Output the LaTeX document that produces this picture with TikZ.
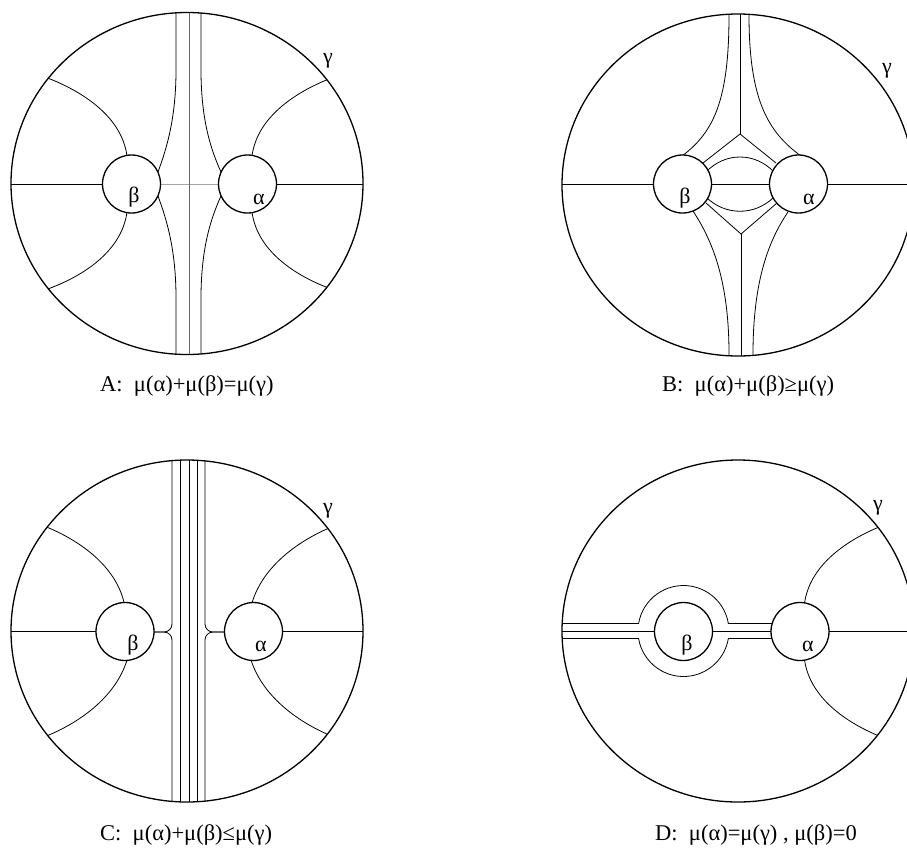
\documentclass[tikz,border=0pt]{standalone}
\usepackage{fontspec}
\setmainfont{Liberation Serif}
\begin{document}
\begin{tikzpicture}[x=1pt,y=-1pt,
  outer/.style={line width=1.3pt},
  hole/.style={line width=1.3pt,fill=white},
  thin/.style={line width=0.8pt},
  lbl/.style={inner sep=0pt,font=\fontsize{22}{22}\selectfont},
  caption/.style={inner sep=0pt,anchor=base west,font=\fontsize{22.5}{22.5}\selectfont}]
\useasboundingbox (0,0) rectangle (907,847);
% ================= Panel A =================
\begin{scope}
  \clip (187,183.5) ellipse [x radius=176, y radius=171];
  \draw[thin] (0,184) -- (131.5,184);
  \draw[thin,black!35] (131.5,184) -- (247.5,184);
  \draw[thin] (247.5,184) -- (380,184);
  \draw[thin,black!60] (189,0) -- (189,370);
  \draw[thin] (176,0) -- (176,70) .. controls (176,120) and (166,150) .. (158,172);
  \draw[thin] (201,0) -- (201,70) .. controls (201,120) and (211,150) .. (221,172);
  \draw[thin] (158,196) .. controls (166,218) and (176,248) .. (176,298) -- (176,370);
  \draw[thin] (221,196) .. controls (211,218) and (201,248) .. (201,298) -- (201,370);
  \draw[thin] (45,77) .. controls (85,92) and (122,118) .. (127,156);
  \draw[thin] (45,290) .. controls (85,276) and (122,250) .. (127,212);
  \draw[thin] (334,77) .. controls (294,92) and (257,118) .. (252,156);
  \draw[thin] (334,290) .. controls (294,276) and (257,250) .. (252,212);
\end{scope}
\draw[outer] (187,183.5) ellipse [x radius=176, y radius=171];
\draw[hole] (131.5,184) circle [radius=29];
\draw[hole] (247.5,184) circle [radius=29];
\node[lbl] (Ab) at (134,197) {β};
\node[lbl] (Aa) at (259,199) {α};
\node[lbl] (Ag) at (328,61) {γ};
\node[caption] (Acap) at (100,391) {A:\ \ μ(α)+μ(β)=μ(γ)};
% ================= Panel B =================
\begin{scope}
  \clip (738,185) ellipse [x radius=176, y radius=171];
  \draw[thin] (550,184) -- (920,184);
  \draw[thin] (740,0) -- (740,134);
  \draw[thin] (741,234) -- (741,370);
  \draw[thin] (703,163) -- (740,134) -- (776,163);
  \draw[thin] (706,203) -- (741,234) -- (777,203);
  \draw[thin] (706,172) .. controls (725,152) and (755,152) .. (774,172);
  \draw[thin] (706,197) .. controls (725,216) and (755,216) .. (774,197);
  \draw[thin] (729,0) -- (729,15) .. controls (729,100) and (714,132) .. (682,156);
  \draw[thin] (749,0) -- (749,15) .. controls (749,100) and (768,132) .. (801,156);
  \draw[thin] (693,211) .. controls (712,240) and (729,280) .. (729,354) -- (729,370);
  \draw[thin] (788,212) .. controls (769,240) and (753,280) .. (753,354) -- (753,370);
\end{scope}
\draw[outer] (738,185) ellipse [x radius=176, y radius=171];
\draw[hole] (682.5,184) circle [radius=29];
\draw[hole] (798.5,184) circle [radius=29];
\node[lbl] (Bb) at (685,198) {β};
\node[lbl] (Ba) at (809,199) {α};
\node[lbl] (Bg) at (887,71) {γ};
\node[caption] (Bcap) at (662,391) {B:\ \ μ(α)+μ(β)≥μ(γ)};
% ================= Panel C =================
\begin{scope}
  \clip (187,631) ellipse [x radius=176, y radius=171];
  \draw[thin] (0,631.5) -- (125,631.5);
  \draw[thin] (253.5,631.5) -- (380,631.5);
  \foreach \xx in {180,189,197} \draw[thin] (\xx,450) -- (\xx,810);
  \draw[thin,rounded corners=8pt] (172,450) -- (172,632) -- (140,632);
  \draw[thin,rounded corners=8pt] (172,810) -- (172,632) -- (140,632);
  \draw[thin,rounded corners=8pt] (205,450) -- (205,632) -- (240,632);
  \draw[thin,rounded corners=8pt] (205,810) -- (205,632) -- (240,632);
  \draw[thin] (44,526) .. controls (78.5,539.5) and (115.5,565.5) .. (124,602.5);
  \draw[thin] (44,737) .. controls (78.5,723.5) and (115.5,697.5) .. (127,660);
  \draw[thin] (334,526) .. controls (300,539.5) and (263,565.5) .. (252,603);
  \draw[thin] (334,737) .. controls (300,723.5) and (263,697.5) .. (251,660);
\end{scope}
\draw[outer] (187,631) ellipse [x radius=176, y radius=171];
\draw[hole] (125,631.5) circle [radius=29];
\draw[hole] (253.5,631.5) circle [radius=29];
\node[lbl] (Cb) at (133,645) {β};
\node[lbl] (Ca) at (261,646) {α};
\node[lbl] (Cg) at (328,511) {γ};
\node[caption] (Ccap) at (100,840) {C:\ \ μ(α)+μ(β)≤μ(γ)};
% ================= Panel D =================
\begin{scope}
  \clip (738,631) ellipse [x radius=176, y radius=171];
  \draw[thin] (550,631.5) -- (920,631.5);
  \draw[thin] (550,623.5) -- (638.6,623.5) arc[start angle=189.5, end angle=350.5, radius=45.5] -- (790,623.5);
  \draw[thin] (550,638.5) -- (638.6,638.5) arc[start angle=170.5, end angle=9.5, radius=45.5] -- (790,638.5);
  \draw[thin] (884,525) .. controls (846.5,539.5) and (809.5,565.5) .. (804.5,603.5);
  \draw[thin] (884,738) .. controls (846.5,723.5) and (809.5,697.5) .. (804.5,659.5);
\end{scope}
\draw[outer] (738,631) ellipse [x radius=176, y radius=171];
\draw[hole] (683.5,631.5) circle [radius=29];
\draw[hole] (800,631.5) circle [radius=29];
\node[lbl] (Db) at (687,645) {β};
\node[lbl] (Da) at (808,646) {α};
\node[lbl] (Dg) at (878,508) {γ};
\node[caption] (Dcap) at (655,840) {D:\ \ μ(α)=μ(γ) , μ(β)=0};
\end{tikzpicture}
\end{document}
